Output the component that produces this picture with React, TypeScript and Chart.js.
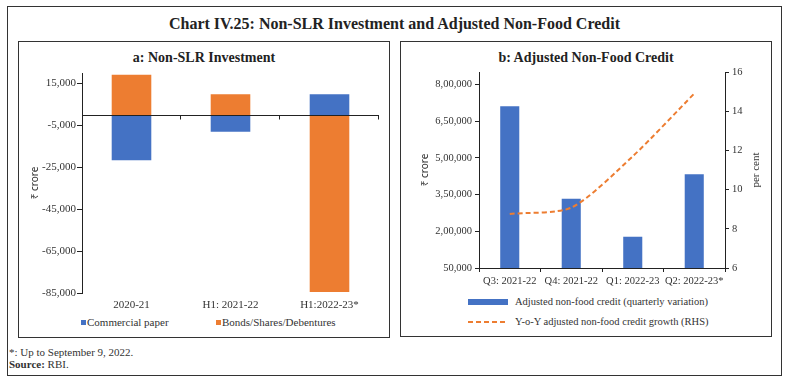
import React, { useEffect, useRef } from "react";
import { Chart, registerables } from "chart.js";
Chart.register(...registerables);

const SERIF = "'Liberation Serif', 'Times New Roman', serif";
const SANS = "'Noto Sans', 'DejaVu Sans', sans-serif";
const BLUE = "#4472C4";
const ORANGE = "#ED7D31";
const INK = "#222222";
const TXT = "#333333";

// Panel a: Non-SLR Investment (₹ crore)
const categoriesA = ["2020-21", "H1: 2021-22", "H1:2022-23*"];
const commercialPaper = [-21600, -8000, 9800];
const bondsSharesDebentures = [19200, 9800, -84500];
const tickValuesA = [-85000, -65000, -45000, -25000, -5000, 15000];
const tickLabelsA = ["-85,000", "-65,000", "-45,000", "-25,000", "-5,000", "15,000"];

// Panel b: Adjusted Non-Food Credit
const categoriesB = ["Q3: 2021-22", "Q4: 2021-22", "Q1: 2022-23", "Q2: 2022-23*"];
const adjustedNonFoodCredit = [710000, 332500, 177600, 433000];
const yoyGrowth = [8.76, 9.08, 11.7, 14.9];
const tickValuesBLeft = [50000, 200000, 350000, 500000, 650000, 800000];
const tickLabelsBLeft = ["50,000", "2,00,000", "3,50,000", "5,00,000", "6,50,000", "8,00,000"];
const tickValuesBRight = [6, 8, 10, 12, 14, 16];

const zeroLinePlugin = {
  id: "zeroLine",
  afterDatasetsDraw(chart: any) {
    const { ctx, chartArea, scales } = chart;
    const x = scales.x;
    const y0 = Math.round(scales.y.getPixelForValue(0)) + 0.5;
    ctx.save();
    ctx.strokeStyle = INK;
    ctx.lineWidth = 1;
    ctx.beginPath();
    ctx.moveTo(chartArea.left, y0);
    ctx.lineTo(chartArea.right, y0);
    for (let i = 1; i <= categoriesA.length; i++) {
      const xx = Math.round(x.getPixelForValue(i - 0.5)) - 0.5;
      ctx.moveTo(xx, y0);
      ctx.lineTo(xx, y0 + 4);
    }
    ctx.stroke();
    ctx.restore();
  },
};

function ChartA() {
  const ref = useRef<HTMLCanvasElement>(null);
  useEffect(() => {
    const chart = new Chart(ref.current!, {
      type: "bar",
      data: {
        labels: categoriesA,
        datasets: [
          {
            label: "Commercial paper",
            data: commercialPaper,
            backgroundColor: BLUE,
            barPercentage: 0.4,
            categoryPercentage: 1,
          },
          {
            label: "Bonds/Shares/Debentures",
            data: bondsSharesDebentures,
            backgroundColor: ORANGE,
            barPercentage: 0.4,
            categoryPercentage: 1,
          },
        ],
      },
      options: {
        animation: false,
        responsive: false,
        maintainAspectRatio: false,
        layout: { padding: { top: 11, right: 9, left: 0, bottom: 0 } },
        plugins: { legend: { display: false }, tooltip: { enabled: false } },
        scales: {
          x: {
            stacked: true,
            grid: { display: false, drawTicks: false },
            border: { display: false },
            ticks: {
              color: TXT,
              font: { family: SERIF, size: 11 },
              padding: 6,
              maxRotation: 0,
              autoSkip: false,
            },
            afterFit: (s: any) => {
              s.height = 19;
            },
          },
          y: {
            stacked: true,
            min: -85000,
            max: 20000,
            afterBuildTicks: (s: any) => {
              s.ticks = tickValuesA.map((v) => ({ value: v }));
            },
            ticks: {
              color: TXT,
              font: { family: SERIF, size: 11 },
              padding: 1,
              callback: (v: any) => tickLabelsA[tickValuesA.indexOf(Number(v))],
            },
            grid: { drawOnChartArea: false, color: INK, tickLength: 5 },
            border: { color: INK },
            title: {
              display: true,
              text: "₹ crore",
              color: TXT,
              font: { family: SANS, size: 10 },
              padding: { top: 10, bottom: 0 },
            },
            afterFit: (s: any) => {
              s.width = 63;
            },
          },
        },
      },
      plugins: [zeroLinePlugin],
    } as any);
    return () => chart.destroy();
  }, []);
  return <canvas ref={ref} width={369} height={250} style={{ position: "absolute", left: 19, top: 62, width: 369, height: 250 }} />;
}

function ChartB() {
  const ref = useRef<HTMLCanvasElement>(null);
  useEffect(() => {
    const chart = new Chart(ref.current!, {
      type: "bar",
      data: {
        labels: categoriesB,
        datasets: [
          {
            type: "line",
            label: "Y-o-Y adjusted non-food credit growth (RHS)",
            data: yoyGrowth,
            yAxisID: "yR",
            borderColor: ORANGE,
            borderWidth: 2,
            borderDash: [5, 3],
            pointRadius: 0,
            tension: 0.25,
            fill: false,
            order: 0,
          },
          {
            type: "bar",
            label: "Adjusted non-food credit (quarterly variation)",
            data: adjustedNonFoodCredit,
            yAxisID: "y",
            backgroundColor: BLUE,
            barPercentage: 0.31,
            categoryPercentage: 1,
            order: 1,
          },
        ],
      },
      options: {
        animation: false,
        responsive: false,
        maintainAspectRatio: false,
        layout: { padding: { top: 10, right: 0, left: 0, bottom: 0 } },
        plugins: { legend: { display: false }, tooltip: { enabled: false } },
        scales: {
          x: {
            grid: { drawOnChartArea: false, color: INK, tickLength: 4, offset: true },
            border: { color: INK },
            ticks: {
              color: TXT,
              font: { family: SERIF, size: 10.5 },
              padding: 3,
              maxRotation: 0,
              autoSkip: false,
            },
            afterFit: (s: any) => {
              s.height = 23;
            },
          },
          y: {
            position: "left",
            min: 50000,
            max: 850000,
            afterBuildTicks: (s: any) => {
              s.ticks = tickValuesBLeft.map((v) => ({ value: v }));
            },
            ticks: {
              color: TXT,
              font: { family: SERIF, size: 10.5 },
              padding: 3,
              callback: (v: any) => tickLabelsBLeft[tickValuesBLeft.indexOf(Number(v))],
            },
            grid: { drawOnChartArea: false, color: INK, tickLength: 4 },
            border: { color: INK },
            title: {
              display: true,
              text: "₹ crore",
              color: TXT,
              font: { family: SANS, size: 10 },
              padding: { top: 18, bottom: 0 },
            },
            afterFit: (s: any) => {
              s.width = 78;
            },
          },
          yR: {
            position: "right",
            min: 6,
            max: 16,
            afterBuildTicks: (s: any) => {
              s.ticks = tickValuesBRight.map((v) => ({ value: v }));
            },
            ticks: {
              color: TXT,
              font: { family: SERIF, size: 10.5 },
              padding: 3,
            },
            grid: { drawOnChartArea: false, color: INK, tickLength: 4 },
            border: { color: INK },
            afterFit: (s: any) => {
              s.width = 45;
            },
          },
        },
      },
    } as any);
    return () => chart.destroy();
  }, []);
  return <canvas ref={ref} width={369} height={229} style={{ position: "absolute", left: 401, top: 62, width: 369, height: 229 }} />;
}

const abs = (s: React.CSSProperties): React.CSSProperties => ({ position: "absolute", ...s });

export default function App() {
  return (
    <div style={abs({ left: 0, top: 0, width: 790, height: 382, background: "#fff", fontFamily: SERIF, color: INK })}>
      <div style={abs({ left: 7, top: 6, width: 775, height: 370, border: "1px solid #333", boxSizing: "border-box" })} />
      <div style={abs({ left: 7, top: 14, width: 775, textAlign: "center", fontSize: 16, fontWeight: 700, lineHeight: "20px" })}>
        Chart IV.25: Non-SLR Investment and Adjusted Non-Food Credit
      </div>

      <div style={abs({ left: 18, top: 41, width: 372, height: 297, border: "1px solid #333", boxSizing: "border-box" })} />
      <div style={abs({ left: 18, top: 48, width: 372, textAlign: "center", fontSize: 14, fontWeight: 700, lineHeight: "20px" })}>
        a: Non-SLR Investment
      </div>
      <ChartA />
      <div style={abs({ left: 81, top: 320, width: 5, height: 5, background: BLUE })} />
      <div style={abs({ left: 87, top: 315, fontSize: 11, lineHeight: "14px", color: TXT, whiteSpace: "nowrap" })}>Commercial paper</div>
      <div style={abs({ left: 216, top: 320, width: 5, height: 5, background: ORANGE })} />
      <div style={abs({ left: 222, top: 315, fontSize: 11, lineHeight: "14px", color: TXT, whiteSpace: "nowrap" })}>Bonds/Shares/Debentures</div>

      <div style={abs({ left: 400, top: 41, width: 372, height: 296, border: "1px solid #333", boxSizing: "border-box" })} />
      <div style={abs({ left: 400, top: 48, width: 372, textAlign: "center", fontSize: 14, fontWeight: 700, lineHeight: "20px" })}>
        b: Adjusted Non-Food Credit
      </div>
      <ChartB />
      <div style={abs({ left: 725, top: 163, width: 60, height: 14, lineHeight: "14px", fontSize: 11, textAlign: "center", color: TXT, transform: "rotate(-90deg)", whiteSpace: "nowrap" })}>
        per cent
      </div>
      <div style={abs({ left: 468, top: 299, width: 40, height: 6, background: BLUE })} />
      <div style={abs({ left: 515, top: 295, fontSize: 10.5, lineHeight: "14px", color: TXT, whiteSpace: "nowrap" })}>
        Adjusted non-food credit (quarterly variation)
      </div>
      <svg style={abs({ left: 468, top: 320, width: 40, height: 4 })} width={40} height={4}>
        <line x1={0} y1={2} x2={40} y2={2} stroke={ORANGE} strokeWidth={2} strokeDasharray="5,3" />
      </svg>
      <div style={abs({ left: 515, top: 315, fontSize: 10.5, lineHeight: "14px", color: TXT, whiteSpace: "nowrap" })}>
        Y-o-Y adjusted non-food credit growth (RHS)
      </div>

      <div style={abs({ left: 9, top: 345, fontSize: 11, lineHeight: "14px", color: TXT, whiteSpace: "nowrap" })}>*: Up to September 9, 2022.</div>
      <div style={abs({ left: 9, top: 357, fontSize: 11, lineHeight: "14px", color: TXT, whiteSpace: "nowrap" })}>
        <b>Source:</b> RBI.
      </div>
    </div>
  );
}
